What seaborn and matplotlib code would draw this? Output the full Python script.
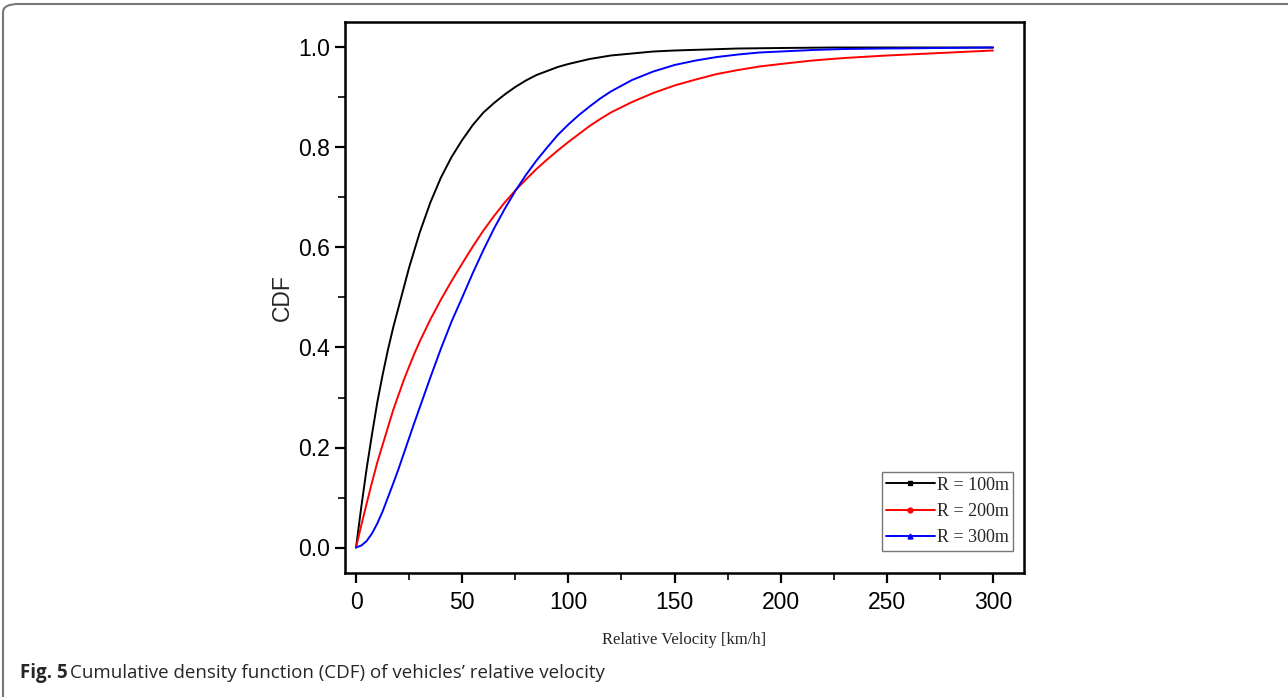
import numpy as np
import pandas as pd
import matplotlib
matplotlib.use("Agg")
import matplotlib.pyplot as plt
import seaborn as sns
from matplotlib.patches import FancyBboxPatch
from matplotlib.lines import Line2D
from matplotlib.ticker import MultipleLocator, FormatStrFormatter

# ---- data ----
x_r100 = [0, 2.5, 5, 7.5, 10, 12.5, 15, 17.5, 20, 22.5, 25, 27.5, 30, 35, 40, 45, 50, 55,
          60, 65, 70, 75, 80, 85, 90, 95, 100, 110, 120, 130, 140, 150, 165, 180, 200,
          225, 250, 300]
y_r100 = [0, 0.082, 0.158, 0.226, 0.29, 0.345, 0.395, 0.44, 0.48, 0.52, 0.56, 0.595, 0.63,
          0.69, 0.74, 0.781, 0.815, 0.845, 0.87, 0.889, 0.906, 0.921, 0.934, 0.945, 0.953,
          0.961, 0.967, 0.977, 0.984, 0.988, 0.992, 0.994, 0.996, 0.998, 0.999, 1.0, 1.0, 1.0]

x_r200 = [0, 2.5, 5, 7.5, 10, 12.5, 15, 17.5, 20, 22.5, 25, 27.5, 30, 35, 40, 45, 50, 55,
          60, 65, 70, 75, 80, 85, 90, 95, 100, 105, 110, 115, 120, 130, 140, 150, 160, 170,
          180, 190, 200, 215, 230, 250, 275, 300]
y_r200 = [0, 0.045, 0.088, 0.13, 0.17, 0.205, 0.24, 0.275, 0.305, 0.335, 0.362, 0.388, 0.412,
          0.456, 0.496, 0.533, 0.568, 0.602, 0.634, 0.663, 0.69, 0.714, 0.736, 0.757, 0.776,
          0.794, 0.811, 0.827, 0.843, 0.857, 0.870, 0.891, 0.909, 0.924, 0.936, 0.947, 0.955,
          0.962, 0.967, 0.974, 0.979, 0.984, 0.989, 0.994]

x_r300 = [0, 2.5, 5, 7.5, 10, 12.5, 15, 17.5, 20, 22.5, 25, 27.5, 30, 35, 40, 45, 50, 55,
          60, 65, 70, 75, 80, 85, 90, 95, 100, 105, 110, 115, 120, 130, 140, 150, 160, 170,
          180, 190, 200, 215, 230, 250, 275, 300]
y_r300 = [0, 0.004, 0.013, 0.028, 0.048, 0.072, 0.1, 0.128, 0.157, 0.188, 0.219, 0.25, 0.28,
          0.34, 0.398, 0.452, 0.50, 0.549, 0.595, 0.638, 0.677, 0.713, 0.745, 0.774, 0.8,
          0.825, 0.846, 0.865, 0.882, 0.898, 0.912, 0.935, 0.952, 0.965, 0.974, 0.981, 0.986,
          0.99, 0.992, 0.995, 0.997, 0.998, 0.999, 1.0]

labels = ["R = 100m", "R = 200m", "R = 300m"]
colors = ["#000000", "#ff0000", "#0000ff"]
markers = ["s", "o", "^"]

frames = []
for lab, xs, ys in zip(labels, [x_r100, x_r200, x_r300], [y_r100, y_r200, y_r300]):
    frames.append(pd.DataFrame({"v": xs, "cdf": ys, "R": lab}))
df = pd.concat(frames, ignore_index=True)

sns.set_style("white")
plt.rcParams["font.family"] = ["Liberation Sans", "DejaVu Sans"]

fig = plt.figure(figsize=(12.88, 6.97), dpi=100)
ax = fig.add_axes([345 / 1288, 1 - 573 / 697, (1024 - 345) / 1288, (573 - 22) / 697])

sns.lineplot(data=df, x="v", y="cdf", hue="R", palette=colors, hue_order=labels,
             ax=ax, linewidth=1.4, legend=False, sort=False, estimator=None)

ax.set_xlim(-5.2, 314.6)
ax.set_ylim(-0.051, 1.051)
ax.xaxis.set_major_locator(MultipleLocator(50))
ax.xaxis.set_minor_locator(MultipleLocator(25))
ax.yaxis.set_major_locator(MultipleLocator(0.2))
ax.yaxis.set_minor_locator(MultipleLocator(0.1))
ax.yaxis.set_major_formatter(FormatStrFormatter("%.1f"))

for s in ax.spines.values():
    s.set_color("black")
    s.set_linewidth(1.8)

ax.tick_params(axis="both", which="major", direction="out", length=7, width=1.6,
               labelsize=16.5, colors="black", pad=4, bottom=True, left=True)
ax.tick_params(axis="x", which="major", pad=6)
ax.tick_params(axis="both", which="minor", direction="out", length=5, width=1.4,
               bottom=True, left=True)

ax.set_xlabel("Relative Velocity [km/h]", fontsize=12, family=["Liberation Serif"],
              labelpad=13)
ax.set_ylabel("CDF", fontsize=16.5, labelpad=3)

handles = [Line2D([0], [0], color=c, lw=1.4, marker=m, markersize=3.5)
           for c, m in zip(colors, markers)]
leg = ax.legend(handles, labels, loc="lower right", bbox_to_anchor=(0.984, 0.04),
                frameon=True, fancybox=False, prop={"family": "Liberation Serif", "size": 13},
                handlelength=2.7, handletextpad=0.1, labelspacing=0.52, borderpad=0.25,
                borderaxespad=0.0)
leg.get_frame().set_edgecolor("#555555")
leg.get_frame().set_linewidth(1.0)

# outer frame of the figure panel
frame = FancyBboxPatch((3 / 1288, -0.2), 1.2, 0.2 + 1 - 4 / 697,
                       boxstyle="round,pad=0,rounding_size=0.012",
                       transform=fig.transFigure, fill=False, edgecolor="#777777",
                       linewidth=1.5, clip_on=False)
fig.patches.append(frame)

fig.text(20 / 1288, 1 - 673 / 697, "Fig. 5", fontsize=13.5, fontweight="bold",
         family=["Open Sans"], va="center", ha="left")
fig.text(70 / 1288, 1 - 673 / 697, "Cumulative density function (CDF) of vehicles\u2019 relative velocity",
         fontsize=13.5, family=["Open Sans"], va="center", ha="left")

fig.savefig("out.png", dpi=100)
